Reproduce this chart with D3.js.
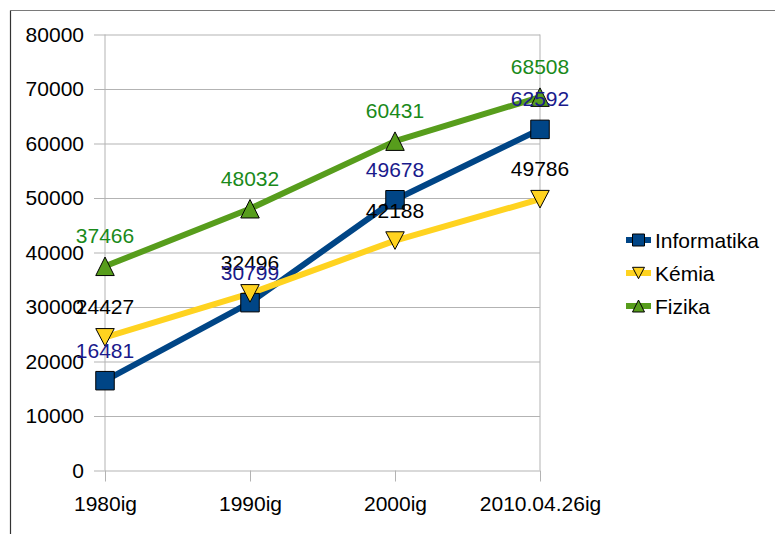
<!DOCTYPE html>
<html><head><meta charset="utf-8">
<script src="https://cdn.jsdelivr.net/npm/d3@7"></script>
<style>body{margin:0;background:#fff}svg{display:block}text{font-family:"Liberation Sans",Arial,sans-serif}</style>
</head><body>
<svg id="c" width="775" height="534"></svg>
<script>
const categories = ["1980ig", "1990ig", "2000ig", "2010.04.26ig"];
const informatika = [16481, 30799, 49678, 62592];
const kemia = [24427, 32496, 42188, 49786];
const fizika = [37466, 48032, 60431, 68508];
const yTicks = [0, 10000, 20000, 30000, 40000, 50000, 60000, 70000, 80000];
const seriesNames = ["Informatika", "Kémia", "Fizika"];

const series = [
  {name: seriesNames[0], values: informatika, color: "#004586", label: "#1a1a8c", shape: "square"},
  {name: seriesNames[1], values: kemia, color: "#ffd320", label: "#000000", shape: "down"},
  {name: seriesNames[2], values: fizika, color: "#579d1c", label: "#1a8a1a", shape: "up"}
];

const svg = d3.select("#c");
const FS = 21;
const pLeft = 105, pRight = 540, pTop = 34.5, pBottom = 470.5;

// outer frame
svg.append("line").attr("x1", 10.5).attr("x2", 775).attr("y1", 10.5).attr("y2", 10.5).attr("stroke", "#7a7a7a").attr("stroke-width", 1.2);
svg.append("line").attr("x1", 10.5).attr("x2", 10.5).attr("y1", 10.5).attr("y2", 534).attr("stroke", "#333").attr("stroke-width", 1.2);

const x = d3.scalePoint().domain(categories).range([pLeft, pRight]);
const y = d3.scaleLinear().domain([0, 80000]).range([pBottom, pTop]);

// y axis with gridlines
const gy = svg.append("g").attr("transform", `translate(${pRight},0)`)
  .call(d3.axisLeft(y).tickValues(yTicks).tickSize(pRight - 94).tickPadding(10).tickFormat(d3.format("d")));
gy.select(".domain").remove();
gy.selectAll(".tick line").attr("stroke", "#b3b3b3");
gy.selectAll(".tick text").attr("font-size", FS).attr("fill", "#000").style("font-family", '"Liberation Sans",Arial,sans-serif');

// x axis
const gx = svg.append("g").attr("transform", `translate(0,${pBottom})`)
  .call(d3.axisBottom(x).tickSize(11).tickPadding(14.5));
gx.select(".domain").remove();
gx.selectAll(".tick line").attr("stroke", "#b3b3b3");
gx.selectAll(".tick text").attr("font-size", FS).attr("fill", "#000").style("font-family", '"Liberation Sans",Arial,sans-serif');

// vertical plot borders
[pLeft, pRight].forEach(px => {
  svg.append("line").attr("x1", px).attr("x2", px).attr("y1", pTop).attr("y2", pBottom).attr("stroke", "#b3b3b3");
});

const line = d3.line().x((d, i) => x(categories[i])).y(d => y(d));

function symbolPath(shape, s) {
  const h = s / 2;
  if (shape === "square") return `M${-h},${-h}H${h}V${h}H${-h}Z`;
  if (shape === "down") return `M${-h},${-h * 0.95}H${h}L0,${h * 0.95}Z`;
  return `M0,${-h}L${h},${h}H${-h}Z`;
}

// lines
series.forEach(s => {
  svg.append("path").datum(s.values).attr("d", line).attr("fill", "none")
    .attr("stroke", s.color).attr("stroke-width", 6).attr("stroke-linejoin", "round");
});
// markers
series.forEach(s => {
  svg.selectAll(null).data(s.values).enter().append("path")
    .attr("transform", (d, i) => `translate(${x(categories[i])},${y(d)})`)
    .attr("d", symbolPath(s.shape, 18.5))
    .attr("fill", s.color).attr("stroke", "#000").attr("stroke-width", 1);
});
// labels
[series[1], series[2], series[0]].forEach(s => {
  svg.selectAll(null).data(s.values).enter().append("text")
    .attr("x", (d, i) => x(categories[i])).attr("y", d => y(d) - 23)
    .attr("text-anchor", "middle").attr("font-size", FS).attr("fill", s.label)
    .text(d => d);
});

// legend
const ly = [240, 273, 306];
series.forEach((s, i) => {
  const g = svg.append("g").attr("transform", `translate(0,${ly[i]})`);
  g.append("line").attr("x1", 626).attr("x2", 651).attr("y1", 0).attr("y2", 0).attr("stroke", s.color).attr("stroke-width", 6);
  g.append("path").attr("transform", "translate(638.5,0)").attr("d", symbolPath(s.shape, 12))
    .attr("fill", s.color).attr("stroke", "#000").attr("stroke-width", 1);
  g.append("text").attr("x", 655).attr("y", 0).attr("dy", "0.36em").attr("font-size", FS).attr("fill", "#000").text(s.name);
});
</script>
</body></html>
